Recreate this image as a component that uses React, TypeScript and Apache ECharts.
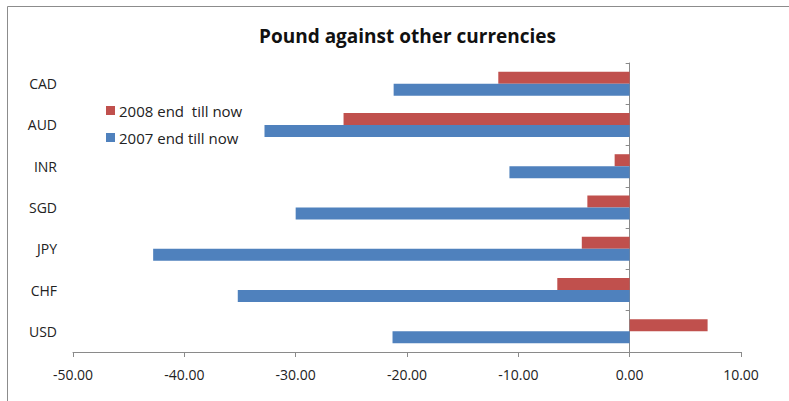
import React, { useEffect, useRef } from "react";
import * as echarts from "echarts";

const categories = ["USD", "CHF", "JPY", "SGD", "INR", "AUD", "CAD"];
const series2008Name = "2008 end  till now";
const series2007Name = "2007 end till now";
const values2008 = [7.0, -6.5, -4.3, -3.8, -1.35, -25.7, -11.8];
const values2007 = [-21.3, -35.2, -42.8, -30.0, -10.8, -32.8, -21.2];
const xTicks = { min: -50, max: 10, interval: 10 };

const FONT = "'Open Sans', sans-serif";

export default function App() {
  const ref = useRef<HTMLDivElement>(null);
  useEffect(() => {
    if (!ref.current) return;
    const chart = echarts.init(ref.current, null, { renderer: "svg" });
    chart.setOption({
      animation: false,
      backgroundColor: "#ffffff",
      title: {
        text: "Pound against other currencies",
        left: 254,
        top: 21,
        textStyle: { fontFamily: FONT, fontSize: 19, fontWeight: "bold", color: "#111" },
      },
      legend: {
        orient: "vertical",
        left: 101,
        top: 98,
        itemWidth: 9,
        itemHeight: 9,
        itemGap: 12,
        icon: "rect",
        data: [series2008Name, series2007Name],
        textStyle: { fontFamily: FONT, fontSize: 15, color: "#222", padding: [0, 0, 0, -1] },
      },
      grid: { left: 73, right: 48, top: 63, bottom: 49, containLabel: false },
      xAxis: {
        type: "value",
        min: xTicks.min,
        max: xTicks.max,
        interval: xTicks.interval,
        splitLine: { show: false },
        axisLine: { show: true, lineStyle: { color: "#8a8a8a", width: 1 } },
        axisTick: { show: true, length: 5, lineStyle: { color: "#8a8a8a" } },
        axisLabel: {
          margin: 15,
          fontFamily: FONT,
          fontSize: 14,
          color: "#222",
          formatter: (v: number) => v.toFixed(2),
        },
      },
      yAxis: [
        {
          type: "category",
          data: categories,
          position: "left",
          axisLine: { show: true, onZero: true, lineStyle: { color: "#8a8a8a", width: 1 } },
          axisTick: { show: true, length: 4, lineStyle: { color: "#8a8a8a" } },
          axisLabel: { show: false },
          splitLine: { show: false },
        },
        {
          type: "category",
          data: categories,
          position: "left",
          axisLine: { show: false, onZero: false },
          axisTick: { show: false },
          axisLabel: { margin: 16, fontFamily: FONT, fontSize: 14, color: "#222" },
          splitLine: { show: false },
        },
      ],
      series: [
        {
          name: series2008Name,
          type: "bar",
          yAxisIndex: 0,
          data: values2008,
          barWidth: 12,
          barGap: "0%",
          itemStyle: { color: "#C0504D" },
        },
        {
          name: series2007Name,
          type: "bar",
          yAxisIndex: 0,
          data: values2007,
          barWidth: 12,
          barGap: "0%",
          itemStyle: { color: "#4F81BD" },
        },
      ],
      graphic: [
        {
          type: "rect",
          shape: { x: 7.5, y: 6.5, width: 1000, height: 1000 },
          style: { fill: "none", stroke: "#8c8c8c", lineWidth: 1 },
          silent: true,
        },
      ],
    });
    return () => chart.dispose();
  }, []);
  return (
    <div
      ref={ref}
      style={{ position: "fixed", left: 0, top: 0, width: 789, height: 401 }}
    />
  );
}
